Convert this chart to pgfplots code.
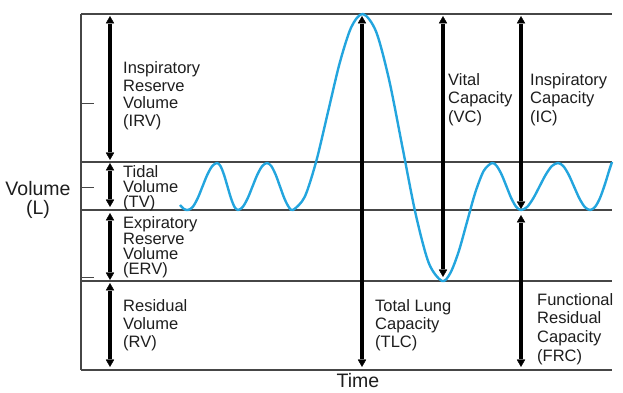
\documentclass[border=0pt]{standalone}
\usepackage{pgfplots}
\pgfplotsset{compat=1.18}
\usepackage{fontspec}
\setmainfont{Liberation Sans}
\definecolor{curve}{RGB}{35,165,222}
\definecolor{lin}{RGB}{70,70,70}
\definecolor{txt}{RGB}{30,30,30}
\definecolor{arrc}{RGB}{0,0,0}
\tikzset{
  lbl/.style={anchor=base west, font=\fontsize{16.5}{17}\selectfont, text=txt, inner sep=0pt},
  big/.style={anchor=base, font=\fontsize{19.5}{20}\selectfont, text=txt, inner sep=0pt},
}
\begin{document}
\begin{tikzpicture}
\useasboundingbox (-81pt,-23pt) rectangle (542pt,370pt);
\begin{axis}[
  scale only axis, width=531pt, height=356pt,
  xmin=81, xmax=612, ymin=0, ymax=356,
  axis x line=bottom, axis y line=left,
  axis line style={-, lin, line width=1.1pt},
  xtick=\empty, ytick={93,183,267}, yticklabels={},
  tick align=inside, major tick length=13pt,
  tick style={lin, line width=0.9pt},
  clip=false,
]
% horizontal lines
\addplot[lin, line width=1.1pt] coordinates {(81,356) (612,356)};
\addplot[lin, line width=1.1pt] coordinates {(81,208) (612,208)};
\addplot[lin, line width=1.1pt] coordinates {(81,160) (612,160)};
\addplot[lin, line width=1.1pt] coordinates {(81,89) (612,89)};
% breathing curve
\addplot[curve, line width=2.4pt, smooth, line join=round] coordinates {
(180,165)(184,161)(188,160)
(192.8,163.1)(197.7,171.75)(202.5,183.5)(207.3,195.25)(212.2,203.9)(217,207)
(220.5,203.9)(224,195.25)(227.5,183.5)(231,171.75)(234.5,163.1)(238,160)
(242.8,163.1)(247.7,171.75)(252.5,183.5)(257.3,195.25)(262.2,203.9)(267,207)
(271.3,203.9)(275.7,195.25)(280,183.5)(284.3,171.75)(288.7,163.1)(293,160)
(304.7,173.1)(316.3,209)(328,258)(339.7,307)(351.3,342.9)(363,356)
(376.2,338.1)(389.3,289.25)(402.5,222.5)(415.7,155.75)(428.8,106.9)(442,89)
(450.3,96.9)(458.7,118.5)(467,148)(475.3,177.5)(483.7,199.1)(492,207)
(496.8,203.9)(501.7,195.25)(506.5,183.5)(511.3,171.75)(516.2,163.1)(521,160)
(527.2,163.1)(533.3,171.75)(539.5,183.5)(545.7,195.25)(551.8,203.9)(558,207)
(563.3,203.9)(568.7,195.25)(574,183.5)(579.3,171.75)(584.7,163.1)(590,160)
(595,163)(600,172)(605,186)(609,199)(612,208)
};
% arrow shafts
\addplot[draw=arrc, line width=4pt] coordinates {(110,346) (110,218)};
\addplot[draw=arrc, line width=4pt] coordinates {(110,199) (110,171)};
\addplot[draw=arrc, line width=4pt] coordinates {(110,149) (110,98)};
\addplot[draw=arrc, line width=4pt] coordinates {(110,79) (110,11)};
\addplot[draw=arrc, line width=4pt] coordinates {(362,346) (362,11)};
\addplot[draw=arrc, line width=4pt] coordinates {(443,346) (443,101)};
\addplot[draw=arrc, line width=4pt] coordinates {(521,346) (521,169)};
\addplot[draw=arrc, line width=4pt] coordinates {(521,147) (521,11)};
% arrow heads
\addplot[arrc, only marks, mark=triangle*, mark size=4.5pt, mark options={rotate=0, fill=arrc, draw=arrc}] coordinates {(110,349) (110,202) (110,152) (110,82) (362,349) (443,349) (521,349) (521,150)};
\addplot[arrc, only marks, mark=triangle*, mark size=4.5pt, mark options={rotate=180, fill=arrc, draw=arrc}] coordinates {(110,215) (110,168) (110,95) (110,8) (362,8) (443,98) (521,166) (521,8)};
% labels
\node[lbl] at (123,296) {Inspiratory};
\node[lbl] at (123,278) {Reserve};
\node[lbl] at (123,261) {Volume};
\node[lbl] at (123,243) {(IRV)};
\node[lbl] at (123,192) {Tidal};
\node[lbl] at (123,177) {Volume};
\node[lbl] at (123,162) {(TV)};
\node[lbl] at (123,141) {Expiratory};
\node[lbl] at (123,125) {Reserve};
\node[lbl] at (123,110) {Volume};
\node[lbl] at (123,95) {(ERV)};
\node[lbl] at (123,58) {Residual};
\node[lbl] at (123,40) {Volume};
\node[lbl] at (123,22) {(RV)};
\node[lbl] at (448,284) {Vital};
\node[lbl] at (448,266) {Capacity};
\node[lbl] at (448,247) {(VC)};
\node[lbl] at (530,284) {Inspiratory};
\node[lbl] at (530,266) {Capacity};
\node[lbl] at (530,247) {(IC)};
\node[lbl] at (375,58) {Total Lung};
\node[lbl] at (375,40) {Capacity};
\node[lbl] at (375,22) {(TLC)};
\node[lbl] at (537,64) {Functional};
\node[lbl] at (537,46) {Residual};
\node[lbl] at (537,27) {Capacity};
\node[lbl] at (537,9) {(FRC)};
\node[big] at (38,174) {Volume};
\node[big] at (38,155) {(L)};
\node[big] at (358,-17) {Time};
\end{axis}
\end{tikzpicture}
\end{document}
